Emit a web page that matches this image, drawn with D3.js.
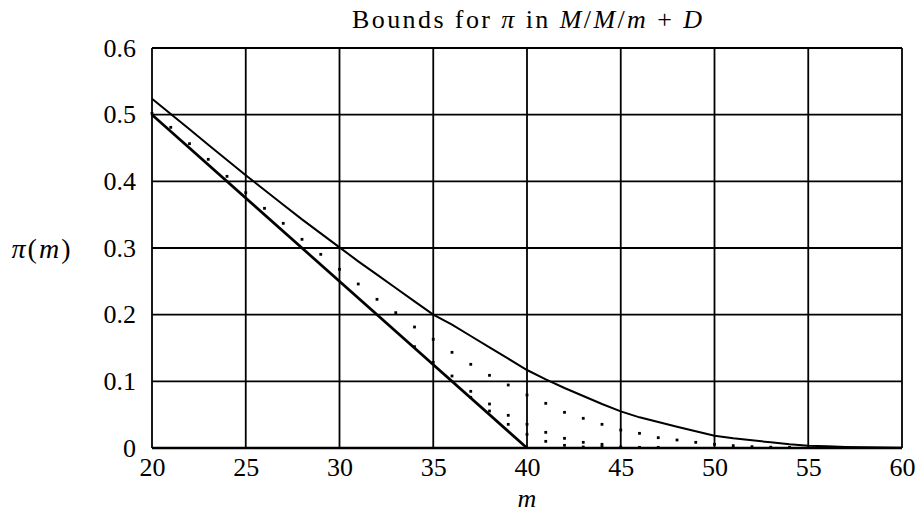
<!DOCTYPE html>
<html><head><meta charset="utf-8">
<script src="https://cdn.jsdelivr.net/npm/d3@7"></script>
<style>
body{margin:0;background:#fff}
svg{display:block}
text{font-family:"Liberation Serif","Times New Roman",serif;fill:#000}
</style>
</head><body>
<svg id="chart" width="917" height="518"></svg>
<script>
// ---- data ----
const upperM = [20,21,22,23,24,25,26,27,28,29,30,31,32,33,34,35,36,37,38,39,40,41,42,43,44,45,46,47,48,49,50,51,52,53,54,55,56,57,58,59,60];
const upperBound = [0.524,0.501,0.478,0.455,0.432,0.409,0.387,0.365,0.343,0.322,0.301,0.280,0.260,0.240,0.220,0.200,0.185,0.168,0.151,0.134,0.117,0.103,0.090,0.078,0.066,0.055,0.046,0.039,0.032,0.025,0.0185,0.0145,0.0115,0.0085,0.0055,0.0035,0.0025,0.0015,0.001,0.0006,0.0003];
const lowerM = [20, 40];
const lowerBound = [0.5, 0];
const simAm = [20,21,22,23,24,25,26,27,28,29,30,31,32,33,34,35,36,37,38,39,40,41,42,43,44,45,46,47,48,49,50,51,52,53,54];
const simA  = [0.502,0.481,0.4565,0.433,0.4075,0.383,0.3595,0.337,0.313,0.2905,0.268,0.246,0.223,0.203,0.1815,0.163,0.1435,0.1255,0.109,0.0945,0.0795,0.067,0.0535,0.0445,0.0355,0.027,0.022,0.0155,0.012,0.0085,0.0055,0.0035,0.002,0.0012,0.001];
const simBm = [34,35,36,37,38,39,40,41,42,43,44,45,46,47];
const simB  = [0.152,0.1285,0.108,0.085,0.066,0.049,0.0355,0.0235,0.0145,0.0085,0.0055,0.0015,0.001,0.001];
const simCm = [37,38,39,40,41,42,43,44];
const simC  = [0.076,0.0555,0.0355,0.0205,0.010,0.004,0.0015,0.002];
const xTicks = [20,25,30,35,40,45,50,55,60];
const yTicks = [0,0.1,0.2,0.3,0.4,0.5,0.6];
const yTickLabels = ["0","0.1","0.2","0.3","0.4","0.5","0.6"];

// ---- layout ----
const W = 917, H = 518;
const margin = {left:152, right:15, top:48, bottom:70};
const FONT = '"Liberation Serif","Times New Roman",serif';
const svg = d3.select("#chart");
const x = d3.scaleLinear().domain([20,60]).range([margin.left, W - margin.right]);
const y = d3.scaleLinear().domain([0,0.6]).range([H - margin.bottom, margin.top]);

// grid
const grid = svg.append("g").attr("stroke","#000").attr("stroke-width",1.8);
grid.selectAll("line.v").data(xTicks).join("line").attr("class","v")
  .attr("x1",d=>x(d)).attr("x2",d=>x(d)).attr("y1",y(0)).attr("y2",y(0.6));
grid.selectAll("line.h").data(yTicks).join("line").attr("class","h")
  .attr("x1",x(20)).attr("x2",x(60)).attr("y1",d=>y(d)).attr("y2",d=>y(d))
  .attr("stroke-width",d=>d===0?2.7:1.8);

// axes (labels only)
const xAxis = svg.append("g").attr("transform",`translate(0,${y(0)})`)
  .call(d3.axisBottom(x).tickValues(xTicks).tickSize(0).tickPadding(10).tickFormat(d3.format("d")))
  .attr("font-family",FONT).attr("font-size",26);
xAxis.select(".domain").remove();

const yAxis = svg.append("g").attr("transform",`translate(${x(20)},0)`)
  .call(d3.axisLeft(y).tickValues(yTicks).tickSize(0).tickPadding(16).tickFormat((d,i)=>yTickLabels[i]))
  .attr("font-family",FONT).attr("font-size",26);
yAxis.select(".domain").remove();

// lines
const line = d3.line().x(d=>x(d[0])).y(d=>y(d[1]));
svg.append("path").datum(upperM.map((m,i)=>[m,upperBound[i]]))
  .attr("d",line).attr("fill","none").attr("stroke","#000").attr("stroke-width",2);
svg.append("path").datum(lowerM.map((m,i)=>[m,lowerBound[i]]))
  .attr("d",line).attr("fill","none").attr("stroke","#000").attr("stroke-width",2.7);

// simulated points
const pts = [].concat(
  simAm.map((m,i)=>[m,simA[i]]),
  simBm.map((m,i)=>[m,simB[i]]),
  simCm.map((m,i)=>[m,simC[i]])
);
svg.append("g").selectAll("rect").data(pts).join("rect")
  .attr("x",d=>x(d[0])-1.4).attr("y",d=>y(d[1])-1.4)
  .attr("width",2.8).attr("height",2.8).attr("fill","#000");

// title
const t = svg.append("text").attr("x",527).attr("y",28).attr("text-anchor","middle")
  .attr("font-size",26).attr("textLength",350).attr("lengthAdjust","spacing");
t.append("tspan").text("Bounds for ");
t.append("tspan").attr("font-style","italic").text("π");
t.append("tspan").text(" in ");
t.append("tspan").attr("font-style","italic").text("M");
t.append("tspan").text("/");
t.append("tspan").attr("font-style","italic").text("M");
t.append("tspan").text("/");
t.append("tspan").attr("font-style","italic").text("m");
t.append("tspan").text(" + ");
t.append("tspan").attr("font-style","italic").text("D");

// axis titles
svg.append("text").attr("x",x(40)).attr("y",507).attr("text-anchor","middle")
  .attr("font-size",26).attr("font-style","italic").text("m");
const yl = svg.append("text").attr("x",42).attr("y",258).attr("text-anchor","middle")
  .attr("font-size",28).attr("letter-spacing",2);
yl.append("tspan").attr("font-style","italic").text("π");
yl.append("tspan").text("(");
yl.append("tspan").attr("font-style","italic").text("m");
yl.append("tspan").text(")");
</script>
</body></html>
